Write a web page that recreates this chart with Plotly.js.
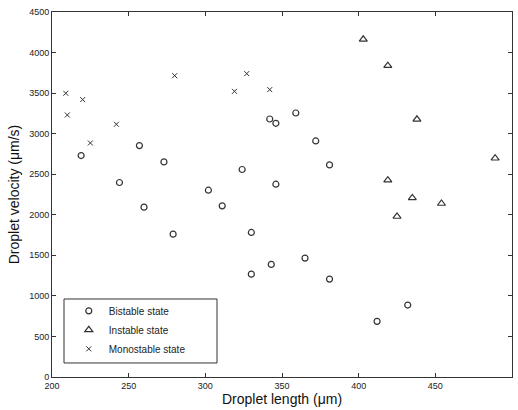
<!DOCTYPE html>
<html>
<head>
<meta charset="utf-8">
<script src="https://cdn.plot.ly/plotly-3.0.1.min.js"></script>
<style>html,body{margin:0;padding:0;background:#fff;}#chart{width:518px;height:410px;}</style>
</head>
<body>
<div id="chart"></div>
<script>
// Bistable state
const bistableX = [219, 244, 257, 273, 302, 324, 342, 346, 359, 372, 381, 346, 260, 279, 311, 330, 330, 343, 365, 381, 412, 432];
const bistableY = [2730, 2398, 2853, 2652, 2303, 2558, 3181, 3128, 3255, 2910, 2615, 2377, 2094, 1761, 2110, 1782, 1268, 1388, 1466, 1207, 686, 887];
// Instable state
const instableX = [403, 419, 438, 489, 419, 435, 425, 454];
const instableY = [4163, 3838, 3177, 2697, 2426, 2208, 1979, 2139];
// Monostable state
const monoX = [209, 210, 220, 225, 242, 280, 319, 327, 342];
const monoY = [3498, 3230, 3420, 2885, 3116, 3715, 3522, 3740, 3543];

const xTicks = [200, 250, 300, 350, 400, 450, 500];
const yTicks = [0, 500, 1000, 1500, 2000, 2500, 3000, 3500, 4000, 4500];

const markColor = '#333333';
const traces = [
  {x: bistableX, y: bistableY, name: 'Bistable state', mode: 'markers', type: 'scatter',
   marker: {symbol: 'circle-open', size: 6, color: markColor, line: {width: 1.2, color: markColor}}},
  {x: instableX, y: instableY, name: 'Instable state', mode: 'markers', type: 'scatter',
   marker: {symbol: 'triangle-up-open', size: 7, color: markColor, line: {width: 1.2, color: markColor}}},
  {x: monoX, y: monoY, name: 'Monostable state', mode: 'markers', type: 'scatter',
   marker: {symbol: 'x-thin-open', size: 5, color: markColor, line: {width: 1, color: markColor}}}
];

const tickFont = {family: 'Arial, "Liberation Sans", sans-serif', size: 9, color: '#222'};
const titleFont = {family: 'Arial, "Liberation Sans", sans-serif', size: 14, color: '#111'};

const layout = {
  width: 518, height: 410,
  margin: {l: 52, r: 6, t: 12, b: 33},
  paper_bgcolor: '#fff', plot_bgcolor: '#fff',
  showlegend: true,
  legend: {x: 0.0365, y: 0.221, xanchor: 'left', yanchor: 'top', bgcolor: 'rgba(0,0,0,0)', borderwidth: 0,
    font: {family: 'Arial, "Liberation Sans", sans-serif', size: 10, color: '#222'}, tracegroupgap: 0},
  xaxis: {range: [200, 500], tickvals: xTicks, ticktext: xTicks.map(String), ticks: 'inside', ticklen: 4,
    tickcolor: '#333', showline: true, linecolor: '#333', linewidth: 1, mirror: 'ticks', showgrid: false, zeroline: false,
    tickfont: tickFont, title: {text: 'Droplet length (μm)', font: titleFont, standoff: 4}, automargin: false},
  yaxis: {range: [0, 4500], tickvals: yTicks, ticktext: yTicks.map(String), ticks: 'inside', ticklen: 4,
    tickcolor: '#333', showline: true, linecolor: '#333', linewidth: 1, mirror: 'ticks', showgrid: false, zeroline: false,
    tickfont: tickFont, title: {text: 'Droplet velocity (μm/s)', font: titleFont, standoff: 6}, automargin: false},
  shapes: [{type: 'rect', xref: 'paper', yref: 'paper', x0: 0.0261, x1: 0.3587, y0: 0.0384, y1: 0.2137,
    line: {color: '#333', width: 1}, fillcolor: '#fff', layer: 'below'}]
};

Plotly.newPlot('chart', traces, layout, {displayModeBar: false, staticPlot: true});
</script>
</body>
</html>
